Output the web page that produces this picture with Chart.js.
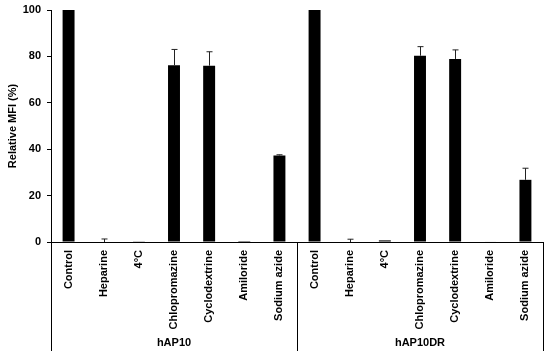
<!DOCTYPE html>
<html>
<head>
<meta charset="utf-8">
<script src="https://cdn.jsdelivr.net/npm/chart.js@4.4.1/dist/chart.umd.min.js"></script>
<style>
  html, body { margin: 0; padding: 0; background: #fff; }
  #wrap { width: 550px; height: 357px; }
</style>
</head>
<body>
<div id="wrap"><canvas id="myChart"></canvas></div>
<script>
const treatments = ["Control", "Heparine", "4°C", "Chlopromazine", "Cyclodextrine", "Amiloride", "Sodium azide"];
const groups = ["hAP10", "hAP10DR"];
const categories = treatments.concat(treatments);

// mean values, hAP10 then hAP10DR
const hap10Values = [100, 0, 0.3, 76.2, 76, 0.4, 37.3];
const hap10drValues = [100, 0, 0.7, 80.3, 78.9, 0.2, 26.8];
// upper error (SD)
const hap10Errors = [0, 1.3, 0, 6.8, 6, 0, 0.3];
const hap10drErrors = [0, 1.2, 0, 3.9, 3.9, 0, 5];

const values = hap10Values.concat(hap10drValues);
const errors = hap10Errors.concat(hap10drErrors);

const yTicks = [0, 20, 40, 60, 80, 100];

const fontFamily = "'Liberation Sans', Arial, sans-serif";

// draws the error whiskers, the group dividers and the group names
const extras = {
    id: "extras",
    afterDatasetsDraw(chart) {
        const ctx = chart.ctx;
        const y = chart.scales.y;
        const meta = chart.getDatasetMeta(0);

        ctx.save();
        ctx.strokeStyle = "#222";
        ctx.lineWidth = 1;
        meta.data.forEach((bar, i) => {
            if (!errors[i]) return;
            const cx = Math.round(bar.x) + 0.5;
            const top = y.getPixelForValue(values[i] + errors[i]);
            const base = y.getPixelForValue(values[i]);
            ctx.beginPath();
            ctx.moveTo(cx, base);
            ctx.lineTo(cx, top);
            ctx.moveTo(cx - 3, top);
            ctx.lineTo(cx + 3, top);
            ctx.stroke();
        });
        ctx.restore();
    },
    afterDraw(chart) {
        const ctx = chart.ctx;
        const x = chart.scales.x;
        const area = chart.chartArea;
        const bottom = chart.height - 6;

        ctx.save();
        ctx.strokeStyle = "#000";
        ctx.lineWidth = 1;
        const splits = [-0.5, treatments.length - 0.5, categories.length - 0.5];
        splits.forEach((s) => {
            const px = Math.round(x.getPixelForValue(s)) + 0.5;
            ctx.beginPath();
            ctx.moveTo(px, area.bottom);
            ctx.lineTo(px, bottom);
            ctx.stroke();
        });

        ctx.fillStyle = "#000";
        ctx.font = "bold 11px " + fontFamily;
        ctx.textAlign = "center";
        ctx.textBaseline = "middle";
        groups.forEach((g, i) => {
            const mid = (treatments.length - 1) / 2 + i * treatments.length;
            ctx.fillText(g, x.getPixelForValue(mid), 343);
        });
        ctx.restore();
    }
};

const config = {
    type: "bar",
    data: {
        labels: categories,
        datasets: [
            {
                data: values,
                backgroundColor: "#000",
                borderWidth: 0,
                barPercentage: 0.34,
                categoryPercentage: 1
            }
        ]
    },
    options: {
        responsive: true,
        maintainAspectRatio: false,
        animation: false,
        layout: { padding: { top: 10, right: 7, left: 0, bottom: 0 } },
        plugins: {
            legend: { display: false },
            tooltip: { enabled: false }
        },
        scales: {
            x: {
                grid: { display: false, drawTicks: false },
                border: { display: true, color: "#000", width: 1 },
                ticks: {
                    color: "#000",
                    font: { family: fontFamily, size: 11, weight: "bold" },
                    minRotation: 90,
                    maxRotation: 90,
                    autoSkip: false,
                    padding: 8
                },
                afterFit(scale) {
                    scale.height = 115;
                    scale.paddingLeft = 0;
                    scale.paddingRight = 0;
                }
            },
            y: {
                min: 0,
                max: 100,
                afterBuildTicks(scale) { scale.ticks = yTicks.map((v) => ({ value: v })); },
                grid: { drawOnChartArea: false, drawTicks: true, tickLength: 4, color: "#000" },
                border: { display: true, color: "#000", width: 1 },
                ticks: {
                    color: "#000",
                    font: { family: fontFamily, size: 11, weight: "bold" },
                    padding: 6
                },
                title: {
                    display: true,
                    text: "Relative MFI (%)",
                    color: "#000",
                    font: { family: fontFamily, size: 11, weight: "bold" },
                    padding: { top: 6, bottom: 0 }
                },
                afterFit(scale) {
                    scale.width = 51;
                    scale.paddingTop = 0;
                    scale.paddingBottom = 0;
                }
            }
        }
    },
    plugins: [extras]
};

const myChart = new Chart(document.querySelector("#myChart"), config);
</script>
</body>
</html>
